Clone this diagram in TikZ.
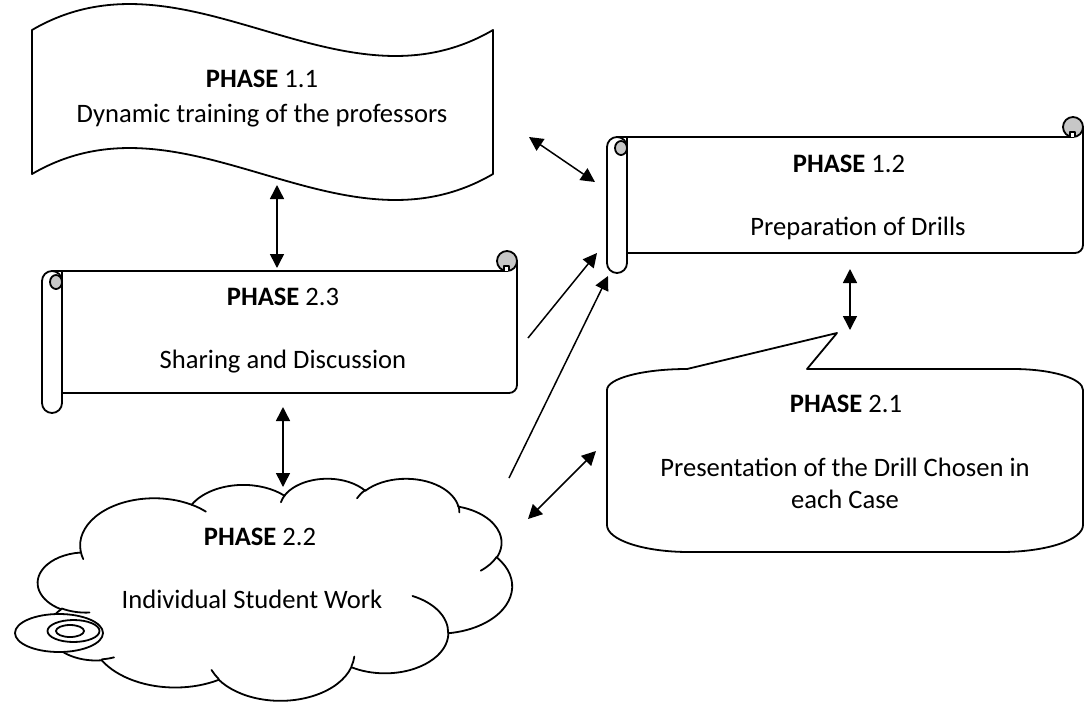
\documentclass[tikz,border=0pt]{standalone}
\usepackage{fontspec}
\setmainfont{Carlito}
\usetikzlibrary{arrows.meta}
\tikzset{
  shapeline/.style={line width=0.9pt, line join=round},
  cloudline/.style={line width=0.9pt, line cap=round},
  biconn/.style={line width=0.75pt, {Triangle[length=7pt,width=7pt]}-{Triangle[length=7pt,width=7pt]}},
  oneconn/.style={line width=0.75pt, -{Triangle[length=7pt,width=7pt]}},
  lbl/.style={anchor=base, inner sep=0pt, font=\fontsize{13.3}{16}\selectfont},
}
\definecolor{curlgrey}{gray}{0.78}
% horizontal scroll: left x, body top y, right x, body bottom y (pixel units)
\newcommand\hscroll[4]{%
  \draw[shapeline, fill=white] (#1+10,#2) -- (#3-10,#2) -- (#3-10,#2-10) -- (#3,#2-10) -- (#3,#4-8)
     .. controls (#3,#4-3.6) and (#3-3.6,#4) .. (#3-8,#4) -- (#1+20,#4) -- (#1+20,#2) -- cycle;
  \draw[shapeline, fill=curlgrey] (#3-10,#2-10) circle[radius=5pt];
  \draw[shapeline, fill=white] (#3-13,#2) -- (#3-13,#2-5) -- (#3-8,#2-5) -- (#3-8,#2);
  \draw[shapeline, fill=white] (#1,#2+10) arc[start angle=180, end angle=0, radius=5pt]
     -- (#1+20,#4+10) arc[start angle=0, end angle=-180, radius=5pt] -- cycle;
  \draw[shapeline, fill=curlgrey] (#1+14,#2+11) ellipse[x radius=3pt, y radius=3.5pt];
}
% cloud (DrawingML cloud geometry, units of 1/10 of the 43200 grid)
\def\cX{38}\def\cY{478}\def\cS{0.109722}\def\cT{0.051389}
\newcommand\cldmove[2]{\xdef\curx{#1}\xdef\cury{#2}}
\newcommand\cldarc[4]{%
  \pgfmathsetmacro\cts{atan2((#1)*sin(#3),(#2)*cos(#3))}%
  \pgfmathsetmacro\cte{atan2((#1)*sin((#3)+(#4)),(#2)*cos((#3)+(#4)))}%
  \pgfmathsetmacro\cte{ifthenelse((#4)>0, (\cts)+mod((\cte)-(\cts)+720,360), (\cts)-mod((\cts)-(\cte)+720,360))}%
  \pgfmathsetmacro\ccx{(\curx)-(#1)*cos(\cts)}%
  \pgfmathsetmacro\ccy{(\cury)-(#2)*sin(\cts)}%
  \pgfmathsetmacro\crx{0.5*(#1)*\cS}%
  \pgfmathsetmacro\cry{0.5*(#2)*\cT}%
  \pgfmathsetmacro\csa{0-(\cts)}%
  \pgfmathsetmacro\cea{0-(\cte)}%
  \draw[cloudline] ({\cX+(\curx)*\cS},{\cY+(\cury)*\cT}) arc[start angle=\csa, end angle=\cea, x radius=\crx pt, y radius=\cry pt];%
  \pgfmathsetmacro\tmpx{(\ccx)+(#1)*cos(\cte)}%
  \pgfmathsetmacro\tmpy{(\ccy)+(#2)*sin(\cte)}%
  \xdef\curx{\tmpx}\xdef\cury{\tmpy}%
}
\begin{document}
\begin{tikzpicture}[x=0.5pt,y=-0.5pt]
\useasboundingbox (0,0) rectangle (1089,703);

% PHASE 1.1 wave
\draw[shapeline, fill=white] (32,30) .. controls (186,-60) and (339,120) .. (493,30) -- (493,174)
   .. controls (339,264) and (186,84) .. (32,174) -- cycle;
\node[lbl] (t11a) at (262,87) {\textbf{PHASE} 1.1};
\node[lbl] (t11b) at (262,122) {Dynamic training of the professors};

% PHASE 1.2 scroll
\hscroll{607}{137}{1083}{253}
\node[lbl] (t12a) at (849,172) {\textbf{PHASE} 1.2};
\node[lbl] (t12b) at (858,235) {Preparation of Drills};

% PHASE 2.3 scroll
\hscroll{42}{271}{517}{393}
\node[lbl] (t23a) at (283,305) {\textbf{PHASE} 2.3};
\node[lbl] (t23b) at (283,368) {Sharing and Discussion};

% PHASE 2.1 callout
\draw[shapeline, fill=white] (607,390) arc[start angle=180, end angle=90, x radius=40pt, y radius=10.5pt]
   -- (837,333) -- (807,369) -- (1013,369) arc[start angle=90, end angle=0, x radius=35pt, y radius=10.5pt]
   -- (1083,525) arc[start angle=0, end angle=-90, x radius=41pt, y radius=13.5pt]
   -- (689,552) arc[start angle=-90, end angle=-180, x radius=41pt, y radius=13.5pt] -- cycle;
\node[lbl] (t21a) at (846,412) {\textbf{PHASE} 2.1};
\node[lbl] (t21b) at (845,476) {Presentation of the Drill Chosen in};
\node[lbl] (t21c) at (845,508) {each Case};

% PHASE 2.2 cloud
\cldmove{390.0}{1437.0}
\cldarc{675.3}{919.0}{-190.4875}{123.7805}
\cldarc{533.3}{726.7}{-144.1024}{89.9452}
\cldarc{436.5}{594.5}{-145.8079}{99.7230}
\cldarc{485.7}{659.5}{-130.9861}{117.2417}
\cldarc{533.3}{727.3}{-78.7089}{109.0269}
\cldarc{677.5}{922.0}{-46.2673}{130.2690}
\cldarc{578.5}{786.7}{0.6250}{114.0333}
\cldarc{675.2}{921.5}{22.4516}{115.1726}
\cldarc{772.0}{1054.3}{66.2426}{75.7110}
\cldarc{436.0}{591.8}{-274.9421}{146.7356}
\cldarc{434.5}{594.5}{-246.8285}{152.5189}
\cldmove{469.3}{2617.7}\cldarc{434.5}{594.5}{86.7420}{26.4295}
\cldmove{692.8}{3489.9}\cldarc{436.0}{591.8}{73.6105}{11.4475}
\cldmove{1647.8}{3909.0}\cldarc{675.2}{921.5}{137.6242}{14.0811}
\cldmove{2882.7}{3475.1}\cldarc{675.2}{921.5}{6.4533}{15.9984}
\cldmove{3412.9}{2295.4}\cldarc{578.5}{786.7}{-70.2924}{70.9174}
\cldmove{4179.8}{1535.4}\cldarc{533.3}{727.3}{30.3180}{27.7515}
\cldmove{3832.4}{542.6}\cldarc{485.7}{659.5}{-13.7443}{14.8589}
\cldmove{2907.8}{395.2}\cldarc{485.7}{659.5}{-149.1815}{18.1954}
\cldmove{2214.1}{472.0}\cldarc{436.5}{594.5}{-163.4943}{17.6864}
\cldmove{1400.0}{519.2}\cldarc{675.3}{919.0}{-66.7070}{12.3194}
\cldmove{412.7}{1578.9}\cldarc{675.3}{919.0}{157.6544}{11.8582}
% thought bubbles
\draw[shapeline, fill=white] (59,633) ellipse[x radius=22pt, y radius=9.5pt];
\draw[shapeline, fill=white] (73.5,631) ellipse[x radius=13pt, y radius=5.5pt];
\draw[shapeline, fill=white] (70,631) ellipse[x radius=7pt, y radius=3pt];
\node[lbl] (t22a) at (260,545) {\textbf{PHASE} 2.2};
\node[lbl] (t22b) at (252,608) {Individual Student Work};

% connectors
\coordinate (a1s) at (277,185); \coordinate (a1e) at (277,268);
\coordinate (a2s) at (529,137); \coordinate (a2e) at (595,182);
\coordinate (a3s) at (528,338); \coordinate (a3e) at (597,253);
\coordinate (a4s) at (509,478); \coordinate (a4e) at (608,276);
\coordinate (a5s) at (528,519); \coordinate (a5e) at (596,451);
\coordinate (a6s) at (283,407); \coordinate (a6e) at (283,487);
\coordinate (a7s) at (850,269); \coordinate (a7e) at (850,330);
\draw[biconn] (a1s) -- (a1e);
\draw[biconn] (a2s) -- (a2e);
\draw[oneconn] (a3s) -- (a3e);
\draw[oneconn] (a4s) -- (a4e);
\draw[biconn] (a5s) -- (a5e);
\draw[biconn] (a6s) -- (a6e);
\draw[biconn] (a7s) -- (a7e);
\end{tikzpicture}
\end{document}
